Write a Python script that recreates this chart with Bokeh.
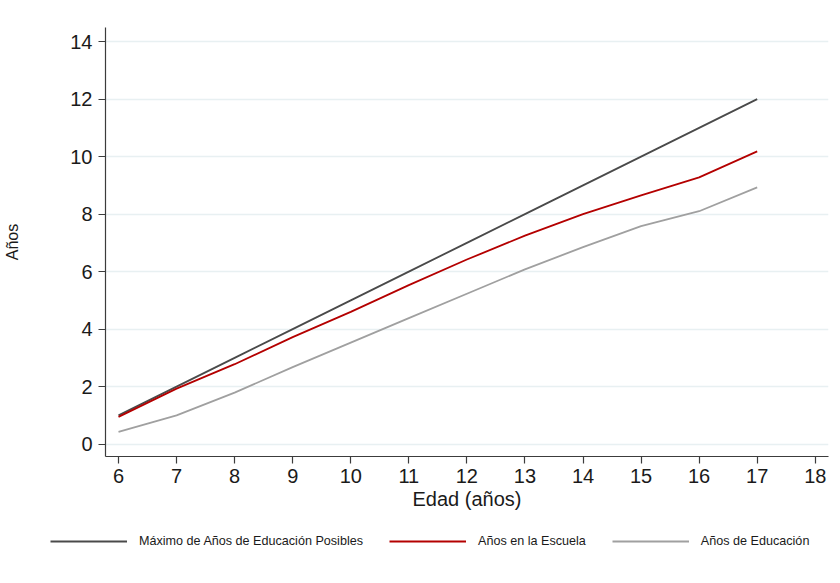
from bokeh.plotting import figure
from bokeh.layouts import column
from bokeh.models import Legend, LegendItem, FixedTicker, Range1d
from bokeh.embed import file_html
from bokeh.resources import INLINE

# Edad (años) y años acumulados por serie
edad = [6, 7, 8, 9, 10, 11, 12, 13, 14, 15, 16, 17]
maximo_posible = [1, 2, 3, 4, 5, 6, 7, 8, 9, 10, 11, 12]
anios_escuela = [0.95, 1.93, 2.78, 3.72, 4.6, 5.53, 6.42, 7.25, 8.0, 8.65, 9.28, 10.18]
anios_educacion = [0.43, 1.0, 1.79, 2.68, 3.53, 4.38, 5.23, 6.08, 6.85, 7.58, 8.1, 8.93]

series_labels = ["Máximo de Años de Educación Posibles", "Años en la Escuela", "Años de Educación"]
series_colors = ["#4a4a4a", "#b40000", "#a0a0a0"]

x_ticks = [6, 7, 8, 9, 10, 11, 12, 13, 14, 15, 16, 17, 18]
y_ticks = [0, 2, 4, 6, 8, 10, 12, 14]

FONT = "Liberation Sans"
TEXT = "#1a1a1a"
LW = 1.8

p = figure(
    width=840, height=525,
    x_range=Range1d(5.776, 18.228), y_range=Range1d(-0.43, 14.49),
    output_backend="svg", toolbar_location=None,
    min_border_left=105, min_border_right=12, min_border_top=27, min_border_bottom=69,
    background_fill_color="white", border_fill_color="white",
)
p.outline_line_color = None
p.frame_align = False

for ys, color in zip([maximo_posible, anios_escuela, anios_educacion], series_colors):
    p.line(edad, ys, line_color=color, line_width=LW)

# ejes
for ax in (p.xaxis[0], p.yaxis[0]):
    ax.axis_line_color = "#3c3c3c"
    ax.axis_line_width = 1.2
    ax.major_tick_line_color = "#3c3c3c"
    ax.major_tick_line_width = 1.2
    ax.major_tick_out = 7
    ax.major_tick_in = 0
    ax.minor_tick_line_color = None
    ax.major_label_text_font = FONT
    ax.major_label_text_font_size = "20px"
    ax.major_label_text_color = TEXT
    ax.axis_label_text_font = FONT
    ax.axis_label_text_font_style = "normal"
    ax.axis_label_text_color = TEXT

p.xaxis.ticker = FixedTicker(ticks=x_ticks)
p.yaxis.ticker = FixedTicker(ticks=y_ticks)
p.xaxis.major_label_standoff = 5
p.yaxis.major_label_standoff = 6

p.xaxis.axis_label = "Edad (años)"
p.xaxis.axis_label_text_font_size = "20px"
p.xaxis.axis_label_standoff = 2

p.yaxis.axis_label = "Años"
p.yaxis.axis_label_text_font_size = "16px"
p.yaxis.axis_label_standoff = 46

p.xgrid.grid_line_color = None
p.ygrid.ticker = FixedTicker(ticks=y_ticks)
p.ygrid.grid_line_color = "#e8f0f2"
p.ygrid.grid_line_width = 1.5

# leyenda en una franja propia bajo el gráfico
lf = figure(
    width=840, height=58,
    x_range=Range1d(0, 1), y_range=Range1d(0, 1),
    x_axis_type=None, y_axis_type=None,
    output_backend="svg", toolbar_location=None,
    min_border=0, background_fill_color="white", border_fill_color="white",
)
lf.outline_line_color = None
lf.grid.visible = False
lf.frame_align = False

items = []
for label, color in zip(series_labels, series_colors):
    # trazo fuera del rango visible: sólo aporta el estilo a la leyenda
    r = lf.line(x=[-2, -1], y=[-2, -1], line_color=color, line_width=LW)
    items.append(LegendItem(label=label, renderers=[r]))

legend = Legend(
    items=items,
    orientation="horizontal",
    location=(50, 35),
    glyph_width=77, glyph_height=14,
    label_standoff=12, spacing=26,
    padding=0, margin=0,
    border_line_color=None, background_fill_alpha=0,
    label_text_font=FONT, label_text_font_size="12.6px", label_text_color=TEXT,
)
lf.add_layout(legend, "center")

layout = column(p, lf, spacing=0)
open("out.html", "w").write(file_html(layout, INLINE))
